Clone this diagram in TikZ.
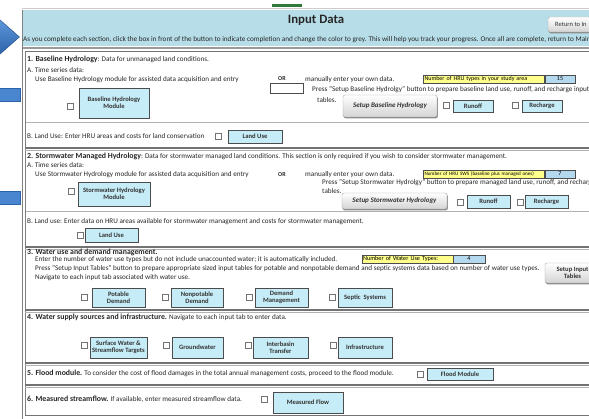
\documentclass[tikz,border=0pt]{standalone}
\usepackage{fontspec}
\setmainfont{Carlito}
\usetikzlibrary{shadows}
\definecolor{hdrblue}{HTML}{B7DEE8}
\definecolor{btncyan}{HTML}{C6ECF7}
\definecolor{cellyel}{HTML}{FFFF8C}
\definecolor{cellblue}{HTML}{B4D8EE}
\definecolor{arrowtop}{HTML}{5E98DC}
\definecolor{arrowbot}{HTML}{2C62A8}
\definecolor{barblue}{HTML}{4A86D0}
\definecolor{tabgreen}{HTML}{2F7A3A}
\newcommand{\bpart}[1]{{\fontsize{7.8}{8}\selectfont\bfseries #1}}
\tikzset{
  txt/.style={anchor=west, inner sep=0pt, font=\fontsize{7.15}{8}\selectfont, text=black!85},
  cbox/.style={draw=black!55, fill=white, minimum size=5.5pt, inner sep=0pt, line width=0.4pt},
  cbtn/.style={draw=black!70, line width=0.4pt, fill=btncyan, align=center, inner sep=0pt,
    font=\bfseries\fontsize{6.6}{7.2}\selectfont, text=black!80,
    drop shadow={shadow xshift=1.2pt, shadow yshift=-1.2pt, fill=black!70, opacity=1}},
  gbtn/.style={draw=black!35, line width=0.4pt, rounded corners=2pt, top color=white, bottom color=black!17,
    align=center, inner sep=0pt, font=\bfseries\itshape\fontsize{7}{7.6}\selectfont, text=black!80,
    drop shadow={shadow xshift=0.8pt, shadow yshift=-1.3pt, fill=black!45, opacity=1}},
  ycell/.style={draw=black!70, line width=0.4pt, fill=cellyel, anchor=center, inner sep=1pt,
    text width=#1, font=\fontsize{6}{6}\selectfont, minimum height=8pt},
  bcell/.style={draw=black!70, line width=0.4pt, fill=cellblue, inner sep=0pt,
    font=\fontsize{6}{6}\selectfont, minimum height=8pt},
  secline/.style={draw=black!55, line width=1.1pt},
  secline2/.style={draw=black!30, line width=0.6pt},
  thinline/.style={draw=black!30, line width=0.6pt}
}
\begin{document}
\begin{tikzpicture}[x=1pt,y=-1pt]
\useasboundingbox (0,0) rectangle (589,419);
\clip (0,0) rectangle (589,419);
\fill[white] (0,0) rectangle (589,419);

% left pointers
\shade[top color=arrowtop, bottom color=arrowbot, draw=arrowbot!80!black, line width=0.4pt]
  (-1,19) -- (19.5,37) -- (-1,55) -- cycle;
\filldraw[fill=barblue, draw=arrowbot, line width=0.4pt] (-1,88) rectangle (20,101);
\filldraw[fill=barblue, draw=arrowbot, line width=0.4pt] (-1,191) rectangle (20,204);

% header
\draw[black!20, line width=0.5pt] (22,8.5) -- (600,8.5);
\fill[tabgreen] (272,4) rectangle (302,7);
\fill[hdrblue] (22,10) rectangle (600,46);
\node[font=\bfseries\fontsize{12.8}{14}\selectfont, text=black!85] (title) at (316,20) {Input Data};
\node[gbtn, minimum width=52pt, minimum height=15pt] (retbtn) at (574,24.5) {};
\node[anchor=west, inner sep=0pt, font=\fontsize{6.5}{7}\selectfont, text=black!80] (rettxt) at (555,24.5) {Return to In};
\node[txt, font=\fontsize{7.2}{8}\selectfont] (instr) at (23,40) {As you complete each section, click the box in front of the button to indicate completion and change the color to grey. This will help you track your progress. Once all are complete, return to Main};
\draw[black!40, line width=2.2pt] (22,47.8) -- (600,47.8);

% frame lines
\draw[black!50, line width=0.8pt] (22,10) -- (22,419);
\draw[black!50, line width=0.8pt] (25.5,51.5) -- (25.5,415.5);
\draw[secline] (25,51.8) -- (600,51.8);
\foreach \yy in {148,247,310,363,385} {
  \draw[secline] (25,\yy) -- (600,\yy);
  \draw[secline2] (25,\yy+2.2) -- (600,\yy+2.2);
}
\draw[thinline] (25.5,122) -- (600,122);
\draw[thinline] (25.5,211.5) -- (600,211.5);
\draw[secline] (25,415.5) -- (600,415.5);

% ---------- section 1
\node[txt] (s1t) at (27,59) {\bpart{1. Baseline Hydrology}: Data for unmanaged land conditions.};
\node[txt] (s1a) at (27,70) {A. Time series data:};
\node[txt] (s1use) at (35,80) {Use Baseline Hydrology module for assisted data acquisition and entry};
\node[txt, font=\bfseries\fontsize{6}{6}\selectfont] (s1or) at (278,79) {OR};
\node[draw=black!70, fill=white, line width=0.5pt, minimum width=33pt, minimum height=10pt, inner sep=0pt] (s1in) at (286.5,88) {};
\node[txt] (s1man) at (305,80) {manually enter your own data.};
\node[ycell=119pt] (s1y) at (484,79) {Number of HRU types in your study area};
\node[bcell, minimum width=30pt] (s1b) at (560,79) {15};
\node[txt] (s1press) at (312,90) {Press "Setup Baseline Hydrolgy" button to prepare baseline land use, runoff, and recharge input};
\node[txt] (s1tab) at (317,100) {tables.};
\node[gbtn, minimum width=94pt, minimum height=22pt] (s1setup) at (390,106) {Setup Baseline Hydrology};
\node[cbox] (c1) at (70,106) {};
\node[cbtn, minimum width=70pt, minimum height=30pt] (bhm) at (114,103) {Baseline Hydrology\\Module};
\node[cbox] (c2) at (446,105) {};
\node[cbtn, minimum width=40pt, minimum height=12pt] (ro1) at (473,106) {Runoff};
\node[cbox] (c3) at (515,105) {};
\node[cbtn, minimum width=40pt, minimum height=12pt] (rc1) at (542,106) {Recharge};
\node[txt] (s1bl) at (27,136) {B. Land Use: Enter HRU areas and costs for land conservation};
\node[cbox] (c4) at (218,136) {};
\node[cbtn, minimum width=54pt, minimum height=13pt] (lu1) at (255,136.5) {Land Use};

% ---------- section 2
\node[txt] (s2t) at (27,156) {\bpart{2. Stormwater Managed Hydrology}: Data for stormwater managed land conditions. This section is only required if you wish to consider stormwater management.};
\node[txt] (s2a) at (27,165) {A. Time series data:};
\node[txt] (s2use) at (35,175) {Use Stormwater Hydrology module for assisted data acquisition and entry};
\node[txt, font=\bfseries\fontsize{6}{6}\selectfont] (s2or) at (278,175) {OR};
\node[txt] (s2man) at (305,175) {manually enter your own data.};
\node[ycell=119pt, font=\fontsize{5.1}{6}\selectfont] (s2y) at (484,174) {Number of HRU SWS (baseline plus managed ones)};
\node[bcell, minimum width=30pt] (s2b) at (560,174) {7};
\node[txt] (s2press) at (322,183) {Press "Setup Stormwater Hydrolgy" button to prepare managed land use, runoff, and recharge input};
\node[txt] (s2tab) at (322,191) {tables.};
\node[gbtn, minimum width=105pt, minimum height=16pt] (s2setup) at (394.5,201) {Setup Stormwater Hydrology};
\node[cbox] (c5) at (71,191) {};
\node[cbtn, minimum width=72pt, minimum height=24pt] (shm) at (114,194) {Stormwater Hydrology\\Module};
\node[cbox] (c6) at (460,202) {};
\node[cbtn, minimum width=43pt, minimum height=13pt] (ro2) at (488.5,201.5) {Runoff};
\node[cbox] (c7) at (520,202) {};
\node[cbtn, minimum width=43pt, minimum height=13pt] (rc2) at (546.5,201.5) {Recharge};
\node[txt] (s2bl) at (27,222) {B. Land use: Enter data on HRU areas available for stormwater management and costs for stormwater management.};
\node[cbox] (c8) at (80,235) {};
\node[cbtn, minimum width=53pt, minimum height=14pt] (lu2) at (111.5,235) {Land Use};

% ---------- section 3
\node[txt] (s3t) at (27,252) {\bpart{3. Water use and demand management.}};
\node[txt] (s3a) at (35,260) {Enter the number of water use types but do not include unaccounted water; it is automatically included.};
\node[ycell=89pt, font=\fontsize{6.2}{6.2}\selectfont] (s3y) at (407.5,259) {Number of Water Use Types:};
\node[bcell, minimum width=32pt] (s3b) at (469,259) {4};
\node[txt] (s3press) at (35,269) {Press "Setup Input Tables" button to prepare appropriate sized input tables for potable and nonpotable demand and septic systems data based on number of water use types.};
\node[txt] (s3nav) at (35,278) {Navigate to each input tab associated with water use.};
\node[gbtn, minimum width=55pt, minimum height=20pt, font=\bfseries\fontsize{6.6}{7.2}\selectfont] (s3setup) at (572.5,273) {Setup Input\\Tables};
\node[cbox] (c9) at (84,297) {};
\node[cbtn, minimum width=53pt, minimum height=19pt] (pot) at (118.5,297.5) {Potable\\Demand};
\node[cbox] (c10) at (165,297) {};
\node[cbtn, minimum width=52pt, minimum height=19pt] (npot) at (197,297.5) {Nonpotable\\Demand};
\node[cbox] (c11) at (249,297) {};
\node[cbtn, minimum width=53pt, minimum height=19pt] (dm) at (281.5,297.5) {Demand\\Management};
\node[cbox] (c12) at (332,297) {};
\node[cbtn, minimum width=54pt, minimum height=19pt] (sep) at (365,297.5) {Septic\ \ Systems};

% ---------- section 4
\node[txt] (s4t) at (27,317) {\bpart{4. Water supply sources and infrastructure.} Navigate to each input tab to enter data.};
\node[cbox] (c13) at (84,345) {};
\node[cbtn, minimum width=57pt, minimum height=21pt] (sw) at (118.5,347.5) {Surface Water \&\\Streamflow Targets};
\node[cbox] (c14) at (166,345) {};
\node[cbtn, minimum width=51pt, minimum height=21pt] (gw) at (197.5,347.5) {Groundwater};
\node[cbox] (c15) at (248,345) {};
\node[cbtn, minimum width=55pt, minimum height=21pt] (ibt) at (280.5,347.5) {Interbasin\\Transfer};
\node[cbox] (c16) at (333,345) {};
\node[cbtn, minimum width=54pt, minimum height=21pt] (inf) at (365,347.5) {Infrastructure};

% ---------- section 5
\node[txt] (s5t) at (27,373) {\bpart{5. Flood module.} To consider the cost of flood damages in the total annual management costs, proceed to the flood module.};
\node[cbox] (c17) at (420,374) {};
\node[cbtn, minimum width=66pt, minimum height=12pt] (fm) at (460,374) {Flood Module};

% ---------- section 6
\node[txt] (s6t) at (27,399) {\bpart{6. Measured streamflow.} If available, enter measured streamflow data.};
\node[cbox] (c18) at (264,399) {};
\node[cbtn, minimum width=70pt, minimum height=21pt] (mf) at (308,402.5) {Measured Flow};
\end{tikzpicture}
\end{document}
